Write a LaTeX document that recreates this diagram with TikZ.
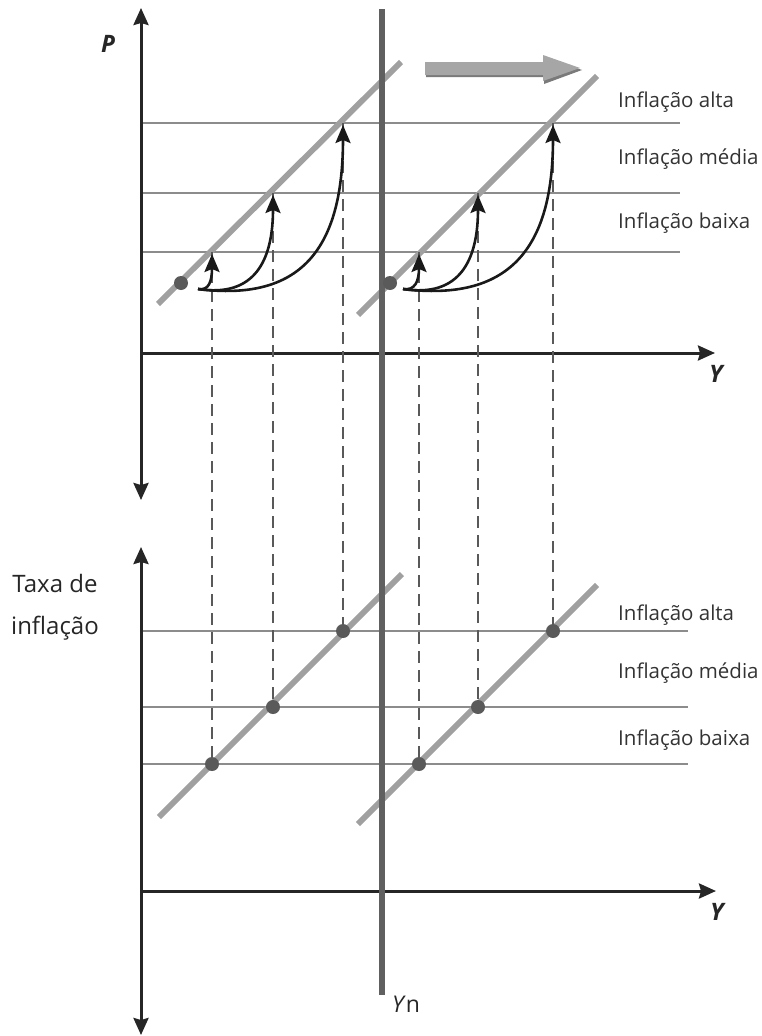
\documentclass[tikz,border=0pt]{standalone}
\usepackage{fontspec}
\setmainfont{Open Sans}
\usetikzlibrary{arrows.meta,calc}
\definecolor{axisc}{HTML}{262626}
\definecolor{hlinec}{HTML}{8C8C8C}
\definecolor{asc}{HTML}{A0A0A0}
\definecolor{ync}{HTML}{606060}
\definecolor{dashc}{HTML}{595959}
\definecolor{dotc}{HTML}{5A5A5A}
\definecolor{bigarrow}{HTML}{A6A6A6}
\definecolor{bigshadow}{HTML}{7A7A7A}
\begin{document}
\begin{tikzpicture}[x=1pt,y=-1pt,
  axisline/.style={draw=axisc,line width=3pt,-{Stealth[length=17pt,width=15pt,inset=2pt]}},
  levelline/.style={draw=hlinec,line width=2.8pt},
  asline/.style={draw=asc,line width=5.8pt},
  guide/.style={draw=dashc,line width=2.8pt,dash pattern=on 12pt off 7pt},
  dot/.style={circle,fill=dotc,inner sep=0pt,minimum size=14pt},
  jump/.style={draw=black!90,line width=2.6pt,-{Stealth[length=18pt,width=15pt,inset=3pt]}},
  lvl/.style={anchor=base west,font=\fontsize{20.5}{25}\selectfont,text=black!80},
  axlab/.style={font=\fontsize{24}{29}\bfseries\itshape\selectfont,text=black!85},
  ttl/.style={anchor=base,font=\fontsize{24}{29}\selectfont,text=black!85}
]
\useasboundingbox (0,0) rectangle (761,1036);

% ---------- coordinates ----------
\coordinate (tvb) at (141,500); \coordinate (tvt) at (141,8);
\coordinate (to) at (141,353); \coordinate (th) at (715,353);
\coordinate (bvb) at (141,1035); \coordinate (bvt) at (141,547);
\coordinate (bo) at (141,891); \coordinate (bh) at (716,891);
\coordinate (ynt) at (382,9); \coordinate (ynb) at (382,995);

% ---------- level lines ----------
\foreach \y/\n in {123/ta,193/tm,252/tb} {
  \coordinate (\n0) at (141,\y); \coordinate (\n1) at (680,\y);
  \draw[levelline] (\n0) -- (\n1);
}
\foreach \y/\n in {631/ba,707/bm,764/bb} {
  \coordinate (\n0) at (141,\y); \coordinate (\n1) at (688,\y);
  \draw[levelline] (\n0) -- (\n1);
}

% ---------- AS / Phillips lines ----------
\coordinate (asl0) at (158,304); \coordinate (asl1) at (401,62);
\coordinate (asr0) at (358,315); \coordinate (asr1) at (597,76);
\coordinate (pcl0) at (159,817); \coordinate (pcl1) at (402,574);
\coordinate (pcr0) at (358,824); \coordinate (pcr1) at (597,585);
\draw[asline] (asl0) -- (asl1);
\draw[asline] (asr0) -- (asr1);
\draw[asline] (pcl0) -- (pcl1);
\draw[asline] (pcr0) -- (pcr1);

% ---------- axes ----------
\draw[axisline] (to) -- (tvt);
\draw[axisline] (to) -- (tvb);
\draw[axisline] (to) -- (th);
\draw[axisline] (bo) -- (bvt);
\draw[axisline] (bo) -- (bvb);
\draw[axisline] (bo) -- (bh);

% ---------- Yn line ----------
\draw[draw=ync,line width=5.8pt] (ynt) -- (ynb);

% ---------- dashed guides ----------
\foreach \x/\y/\by/\n in {212/252/764/g1,273/193/707/g2,343/123/631/g3,419/252/764/g4,478/193/707/g5,553/123/631/g6} {
  \coordinate (\n t) at (\x,\y); \coordinate (\n b) at (\x,\by);
  \draw[guide] (\n t) -- (\n b);
}

% ---------- dots ----------
\node[dot] (d0) at (181,283) {};
\node[dot] (d1) at (390,283) {};
\foreach \n in {g1,g2,g3,g4,g5,g6} { \node[dot] (\n d) at (\n b) {}; }

% ---------- jump arrows ----------
\coordinate (sl) at (198,289);
\coordinate (sr) at (403,289);
\draw[jump] (sl) .. controls (209,291) and (212,281) .. (212,254);
\draw[jump] (sl) .. controls (255,298) and (273,260) .. (273,195);
\draw[jump] (sl) .. controls (300,302) and (343,250) .. (343,125);
\draw[jump] (sr) .. controls (415,291) and (419,281) .. (419,254);
\draw[jump] (sr) .. controls (460,298) and (478,260) .. (478,195);
\draw[jump] (sr) .. controls (508,302) and (553,250) .. (553,125);

% ---------- big shift arrow ----------
\fill[bigshadow] (426,64) -- (544,64) -- (544,57) -- (582,70) -- (544,84) -- (544,77) -- (426,77) -- cycle;
\fill[bigarrow] (425,62) -- (543,62) -- (543,55) -- (580,68) -- (543,81) -- (543,75) -- (425,75) -- cycle;

% ---------- labels ----------
\node[axlab] (P) at (108,44) {P};
\node[axlab] (Y1) at (716,374) {Y};
\node[axlab] (Y2) at (717,912) {Y};
\node[anchor=base west,font=\fontsize{23}{27}\selectfont,text=black!85,inner sep=0pt] (yn) at (392,1012) {\textit{Y}n};
\node[ttl] (t1) at (55,592) {Taxa de};
\node[ttl] (t2) at (55,634) {inflação};

\node[lvl,inner sep=0pt] (la1) at (618,107) {Inflação alta};
\node[lvl,inner sep=0pt] (lm1) at (618,164) {Inflação média};
\node[lvl,inner sep=0pt] (lb1) at (618,228) {Inflação baixa};
\node[lvl,inner sep=0pt] (la2) at (618,620) {Inflação alta};
\node[lvl,inner sep=0pt] (lm2) at (618,678) {Inflação média};
\node[lvl,inner sep=0pt] (lb2) at (618,745) {Inflação baixa};
\end{tikzpicture}
\end{document}
